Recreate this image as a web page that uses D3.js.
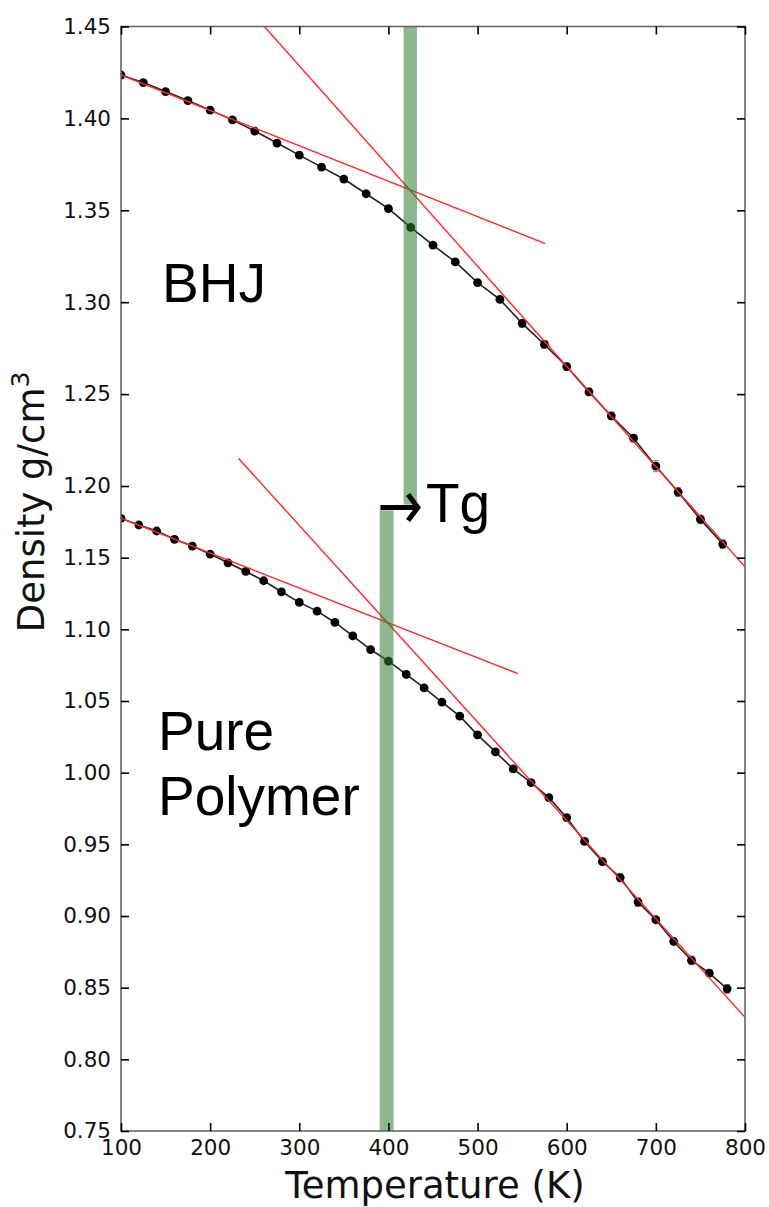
<!DOCTYPE html>
<html>
<head>
<meta charset="utf-8">
<script src="https://cdn.jsdelivr.net/npm/d3@7"></script>
<style>
  html, body { margin: 0; padding: 0; background: #fff; }
  svg { display: block; }
</style>
</head>
<body>
<svg id="chart" width="769" height="1207"></svg>
<script>
// Temperature grid for each system (K)
const bhjTemps = [100,125,150,175,200,225,250,275,300,325,350,375,400,425,450,475,500,525,550,575,600,625,650,675,700,725,750,775];
const bhjDensity = [1.4236,1.4195,1.4146,1.4097,1.4045,1.3992,1.3931,1.3866,1.3800,1.3735,1.3670,1.3590,1.3509,1.3407,1.3310,1.3219,1.3107,1.3015,1.2885,1.2770,1.2650,1.2512,1.2381,1.2260,1.2108,1.1958,1.1767,1.1595];
const bhjError = [0,0,0,0,0,0,0,0,0,0,0,0,0,0,0,0,0,0,0.002,0.002,0.002,0.002,0.002,0.002,0.003,0.003,0.003,0.003];

const polyTemps = [100,120,140,160,180,200,220,240,260,280,300,320,340,360,380,400,420,440,460,480,500,520,540,560,580,600,620,640,660,680,700,720,740,760,780];
const polyDensity = [1.1774,1.1728,1.1686,1.1628,1.1581,1.1525,1.1464,1.1404,1.1339,1.1262,1.1188,1.1127,1.1048,1.0954,1.0859,1.0778,1.0685,1.0591,1.0492,1.0394,1.0264,1.0145,1.0026,0.9931,0.9826,0.9686,0.9520,0.9380,0.9268,0.9097,0.8974,0.8822,0.8690,0.8601,0.8492];
const polyError = [0,0,0,0,0,0,0,0,0,0,0,0,0,0,0,0,0,0,0,0,0,0,0.002,0.002,0.002,0.002,0.002,0.002,0.003,0.003,0.002,0.002,0.003,0.002,0.003];

// Linear fits below / above Tg: [[T1, rho1], [T2, rho2]]
const bhjGlassFit = [[100, 1.4236], [576, 1.3319]];
const bhjMeltFit = [[260.8, 1.45], [800, 1.1436]];
const polyGlassFit = [[100, 1.1775], [545, 1.0692]];
const polyMeltFit = [[231.7, 1.2151], [800, 0.8294]];

// Glass transition bands: centre, width (K), density extent
const tgBands = [
  { t: 424.5, w: 15, y0: 1.45, y1: 1.187 },
  { t: 398, w: 15.5, y0: 1.183, y1: 0.75 }
];

const xTicks = [100,200,300,400,500,600,700,800];
const yTicks = [0.75,0.80,0.85,0.90,0.95,1.00,1.05,1.10,1.15,1.20,1.25,1.30,1.35,1.40,1.45];

const svg = d3.select("#chart");
const L = 121, R = 745, T = 26.5, B = 1131;

const x = d3.scaleLinear().domain([100, 800]).range([L, R]);
// y axis spacing is wider above 1.20 than below
const y = d3.scaleLinear().domain([0.75, 1.20, 1.45]).range([B, 486, T]);

const tickFont = "'DejaVu Sans', sans-serif";

// Glass-transition bands drawn above the data
function drawBands(g) {
  g.selectAll("rect.tg").data(tgBands).join("rect")
    .attr("class", "tg")
    .attr("x", d => x(d.t - d.w / 2))
    .attr("width", d => x(d.t + d.w / 2) - x(d.t - d.w / 2))
    .attr("y", d => y(d.y0))
    .attr("height", d => y(d.y1) - y(d.y0))
    .attr("fill", "rgb(46,125,50)")
    .attr("fill-opacity", 0.55);
}

const plot = svg.append("g");
plot.append("clipPath").attr("id", "clip").append("rect")
  .attr("x", L).attr("y", T).attr("width", R - L).attr("height", B - T);
const inner = plot.append("g").attr("clip-path", "url(#clip)");

// Series
function drawSeries(temps, dens, errs) {
  const pts = temps.map((t, i) => ({ t, v: dens[i], e: errs[i] }));
  inner.append("path")
    .datum(pts)
    .attr("fill", "none")
    .attr("stroke", "#222")
    .attr("stroke-width", 1.6)
    .attr("d", d3.line().x(d => x(d.t)).y(d => y(d.v)));
  const eb = inner.append("g").attr("stroke", "#888").attr("stroke-width", 1);
  pts.filter(d => d.e > 0).forEach(d => {
    eb.append("line").attr("x1", x(d.t)).attr("x2", x(d.t))
      .attr("y1", y(d.v - d.e)).attr("y2", y(d.v + d.e));
    [d.v - d.e, d.v + d.e].forEach(v => {
      eb.append("line").attr("x1", x(d.t) - 3).attr("x2", x(d.t) + 3)
        .attr("y1", y(v)).attr("y2", y(v));
    });
  });
  inner.append("g").selectAll("circle").data(pts).join("circle")
    .attr("cx", d => x(d.t)).attr("cy", d => y(d.v))
    .attr("r", 4.4).attr("fill", "#000");
}
drawSeries(bhjTemps, bhjDensity, bhjError);
drawSeries(polyTemps, polyDensity, polyError);

// Fit lines
[bhjGlassFit, bhjMeltFit, polyGlassFit, polyMeltFit].forEach(f => {
  inner.append("line")
    .attr("x1", x(f[0][0])).attr("y1", y(f[0][1]))
    .attr("x2", x(f[1][0])).attr("y2", y(f[1][1]))
    .attr("stroke", "#ff2a2a").attr("stroke-width", 1.4);
});

drawBands(inner);

// Axes with inward ticks on all four sides
const frame = svg.append("g");
frame.append("rect").attr("x", L).attr("y", T).attr("width", R - L).attr("height", B - T)
  .attr("fill", "none").attr("stroke", "#666").attr("stroke-width", 1.6);

const ax = d3.axisBottom(x).tickValues(xTicks).tickSize(-8).tickPadding(9).tickFormat(d3.format("d"));
const gx = svg.append("g").attr("transform", `translate(0,${B})`).call(ax);
const axTop = d3.axisTop(x).tickValues(xTicks).tickSize(-8).tickFormat("");
const gxt = svg.append("g").attr("transform", `translate(0,${T})`).call(axTop);

const ay = d3.axisLeft(y).tickValues(yTicks).tickSize(-8).tickPadding(10).tickFormat(d3.format(".2f"));
const gy = svg.append("g").attr("transform", `translate(${L},0)`).call(ay);
const ayR = d3.axisRight(y).tickValues(yTicks).tickSize(-8).tickFormat("");
const gyr = svg.append("g").attr("transform", `translate(${R},0)`).call(ayR);

[gx, gxt, gy, gyr].forEach(g => {
  g.select(".domain").remove();
  g.selectAll(".tick line").attr("stroke", "#000").attr("stroke-width", 1.6);
  g.selectAll(".tick text").attr("font-family", tickFont).attr("font-size", 21.5).attr("fill", "#111");
});

// Axis titles
svg.append("text")
  .attr("x", (L + R) / 2 + 2).attr("y", 1198)
  .attr("text-anchor", "middle")
  .attr("font-family", tickFont).attr("font-size", 37).attr("fill", "#111")
  .text("Temperature (K)");

const yt = svg.append("text")
  .attr("transform", "translate(44,502) rotate(-90)")
  .attr("text-anchor", "middle")
  .attr("font-family", tickFont).attr("font-size", 37).attr("fill", "#111");
yt.append("tspan").text("Density g/cm");
yt.append("tspan").attr("font-size", 25).attr("dy", -15).text("3");

// Annotations
const annFont = "'Liberation Sans', Arial, sans-serif";
svg.append("text").attr("x", 162).attr("y", 302)
  .attr("font-family", annFont).attr("font-size", 55).attr("fill", "#000").text("BHJ");
svg.append("text").attr("x", 158).attr("y", 750)
  .attr("font-family", annFont).attr("font-size", 55).attr("fill", "#000").text("Pure");
svg.append("text").attr("x", 158).attr("y", 815)
  .attr("font-family", annFont).attr("font-size", 55).attr("fill", "#000").text("Polymer");
svg.append("text").attr("x", 426).attr("y", 522)
  .attr("font-family", annFont).attr("font-size", 55).attr("fill", "#000").text("Tg");

// Arrow from the lower band to the upper band
const arrowY = y(1.185);
svg.append("line")
  .attr("x1", x(391)).attr("x2", x(430))
  .attr("y1", arrowY).attr("y2", arrowY)
  .attr("stroke", "#000").attr("stroke-width", 5);
svg.append("path")
  .attr("d", `M${x(422)},${arrowY - 13} L${x(433)},${arrowY} L${x(422)},${arrowY + 13}`)
  .attr("fill", "none").attr("stroke", "#000").attr("stroke-width", 5);
</script>
</body>
</html>
